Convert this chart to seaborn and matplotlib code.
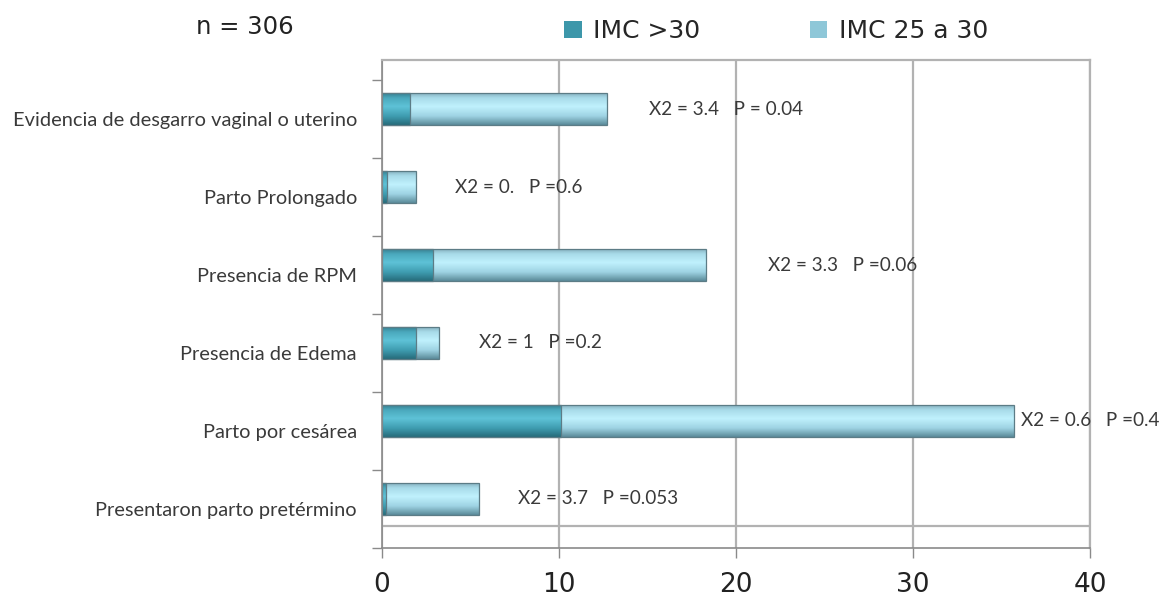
import numpy as np
import matplotlib
matplotlib.use("Agg")
import matplotlib.pyplot as plt
import seaborn as sns
import pandas as pd
from matplotlib.colors import LinearSegmentedColormap
from matplotlib.patches import Patch
from matplotlib.ticker import FixedLocator
from matplotlib.transforms import ScaledTranslation

# Data
categories = [
    "Evidencia de desgarro vaginal o uterino",
    "Parto Prolongado",
    "Presencia de RPM",
    "Presencia de Edema",
    "Parto por cesárea",
    "Presentaron parto pretérmino",
]
imc_mas_30 = [1.6, 0.3, 2.9, 1.9, 10.1, 0.25]
imc_25_30 = [11.1, 1.6, 15.4, 1.3, 25.6, 5.25]
stat_labels = [
    "X2 = 3.4   P = 0.04",
    "X2 = 0.   P =0.6",
    "X2 = 3.3   P =0.06",
    "X2 = 1   P =0.2",
    "X2 = 0.6   P =0.4",
    "X2 = 3.7   P =0.053",
]
stat_x = [15.1, 4.1, 21.8, 5.5, 36.1, 7.7]
series_labels = ["IMC >30", "IMC 25 a 30"]
x_ticks = [0, 10, 20, 30, 40]
sample_label = "n = 306"

DARK = "#3d97aa"
LIGHT = "#8ec7d8"
EDGE = "#5c7c86"
GRID = "#b2b2b2"
WIDE = ["DejaVu Sans"]

sns.set_style("white")
plt.rcParams["font.family"] = ["Lato", "DejaVu Sans"]

df = pd.DataFrame({
    "categoria": categories,
    "obesidad": imc_mas_30,
    "total": np.array(imc_mas_30) + np.array(imc_25_30),
})

fig = plt.figure(figsize=(11.72, 6.03), dpi=100)
ax = fig.add_axes([382 / 1172, 1 - 548 / 603, (1090 - 382) / 1172, (548 - 60) / 603])

bar_h = 0.41
sns.barplot(data=df, x="total", y="categoria", color=LIGHT, width=bar_h,
            saturation=1, errorbar=None, ax=ax)
sns.barplot(data=df, x="obesidad", y="categoria", color=DARK, width=bar_h,
            saturation=1, errorbar=None, ax=ax)

# Shaded, cylinder-like fill for each bar
light_cmap = LinearSegmentedColormap.from_list(
    "light", [(0, "#86b2c0"), (0.15, "#a8dbe9"), (0.42, "#c0f1fd"),
              (0.72, "#9ed3e3"), (1.0, "#5a8a98")])
dark_cmap = LinearSegmentedColormap.from_list(
    "dark", [(0, "#367f90"), (0.15, "#4aa8bc"), (0.42, "#5ec2d7"),
             (0.72, "#3f9db1"), (1.0, "#266b7a")])
grad = np.linspace(0, 1, 256).reshape(-1, 1)
n = len(categories)
for i, patch in enumerate(ax.patches):
    cmap = light_cmap if i < n else dark_cmap
    x0, y0 = patch.get_x(), patch.get_y()
    w, h = patch.get_width(), patch.get_height()
    base_z = 2.0 + (0.2 if i >= n else 0.0)
    im = ax.imshow(grad, cmap=cmap, aspect="auto", origin="upper",
                   extent=(x0, x0 + w, y0 + h, y0), zorder=base_z,
                   interpolation="bilinear")
    im.set_clip_path(patch)
    patch.set_facecolor("none")
    patch.set_edgecolor(EDGE)
    patch.set_linewidth(0.9)
    patch.set_zorder(base_z + 0.1)

ax.set_xlim(0, 40)
ax.set_ylim(5.63, -0.63)

# Statistics next to each bar
for i, txt in enumerate(stat_labels):
    ax.text(stat_x[i], i, txt, ha="left", va="center",
            fontsize=13.6, color="#3a3a3a", zorder=5)

# Axes styling
ax.set_xlabel("")
ax.set_ylabel("")
ax.set_xticks(x_ticks)
ax.set_xticklabels([str(t) for t in x_ticks], fontsize=19, color="#222222",
                   family=WIDE)
ax.tick_params(axis="x", direction="out", length=7, width=1, color="#8a8a8a",
               pad=10, bottom=True)
ax.set_yticks(range(n))
ax.set_yticklabels(categories, fontsize=14.4, color="#3a3a3a")
ax.tick_params(axis="y", which="major", length=0, pad=18)
ax.yaxis.set_minor_locator(FixedLocator([-0.37 + k for k in range(n + 1)]))
ax.tick_params(axis="y", which="minor", direction="out", length=7, width=1,
               color="#8a8a8a", left=True)
offset = ScaledTranslation(0, -10 / 100, fig.dpi_scale_trans)
for lbl in ax.get_yticklabels():
    lbl.set_transform(lbl.get_transform() + offset)

ax.xaxis.grid(True, color=GRID, linewidth=1.6, zorder=0)
ax.yaxis.grid(False)
ax.set_axisbelow(True)
for side in ["left", "bottom"]:
    ax.spines[side].set_color("#8a8a8a")
    ax.spines[side].set_linewidth(1.2)
for side in ["top", "right"]:
    ax.spines[side].set_visible(True)
    ax.spines[side].set_color(GRID)
    ax.spines[side].set_linewidth(1.6)

# Floor edge of the chart box
ax.axhline(5.35, color=GRID, linewidth=1.6, zorder=1)

# Legend and sample size
handles = [Patch(facecolor=DARK, edgecolor="none", label=series_labels[0]),
           Patch(facecolor=LIGHT, edgecolor="none", label=series_labels[1])]
fig.legend(handles=handles, loc="center", bbox_to_anchor=(776 / 1172, 1 - 31 / 603),
           ncol=2, frameon=False, handlelength=0.7, handleheight=0.7,
           handletextpad=0.45, columnspacing=4.4,
           prop={"family": WIDE, "size": 18})
fig.text(245 / 1172, 1 - 27 / 603, sample_label, ha="center", va="center",
         fontsize=17.5, color="#222222", family=WIDE)

fig.savefig("out.png", dpi=100)
